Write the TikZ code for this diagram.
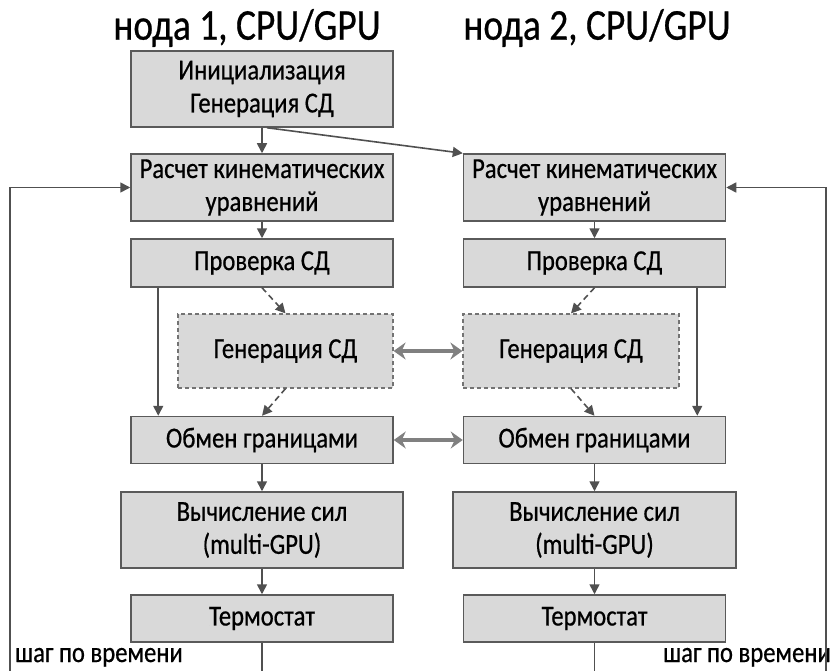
\documentclass[tikz,border=0pt]{standalone}
\usepackage{fontspec}
\setmainfont{Carlito}[FakeStretch=0.85, FakeBold=0.6]
\usetikzlibrary{arrows.meta}

\definecolor{boxfill}{HTML}{D9D9D9}
\definecolor{boxdraw}{HTML}{5A5A5A}
\definecolor{flowgray}{HTML}{505050}
\definecolor{xchgray}{HTML}{808080}

\tikzset{
  stage/.style={draw=boxdraw, fill=boxfill, line width=1.5pt, inner sep=0pt,
    align=center, minimum width=262pt, font=\fontsize{29}{33}\selectfont},
  optstage/.style={stage, draw=boxdraw!85, line width=1.2pt, dash pattern=on 4pt off 3pt},
  flow/.style={draw=flowgray, line width=1.6pt, -{Triangle[length=10pt,width=10pt]}},
  optflow/.style={flow, dash pattern=on 6pt off 4pt},
  xchg/.style={draw=xchgray, line width=3.5pt,
    {Stealth[length=12pt,width=17pt,inset=4pt]}-{Stealth[length=12pt,width=17pt,inset=4pt]}},
  heading/.style={font=\fontsize{44}{50}\selectfont},
  steplabel/.style={font=\fontsize{29}{33}\selectfont, inner sep=0pt}
}

\begin{document}
\begin{tikzpicture}[x=1pt, y=-1pt]
  \useasboundingbox (0,0) rectangle (832,671);

  % column headings
  \node[heading] (title1) at (247,28) {нода 1, CPU/GPU};
  \node[heading] (title2) at (597,28) {нода 2, CPU/GPU};

  % node 1
  \node[stage, minimum height=76pt] (init) at (262,89) {Инициализация\\Генерация СД};
  \node[stage, minimum height=67pt] (rasch1) at (262,187.5) {Расчет кинематических\\уравнений};
  \node[stage, minimum height=48pt] (prov1) at (262,263) {Проверка СД};
  \node[optstage, minimum width=215pt, minimum height=74pt] (gen1) at (285.5,351) {Генерация СД};
  \node[stage, minimum height=47pt] (obmen1) at (262,440) {Обмен границами};
  \node[stage, minimum width=282pt, minimum height=76pt] (calc1) at (262,530) {Вычисление сил\\(multi-GPU)};
  \node[stage, minimum height=47pt] (therm1) at (262,618.5) {Термостат};

  % node 2
  \node[stage, minimum height=67pt] (rasch2) at (594.5,187.5) {Расчет кинематических\\уравнений};
  \node[stage, minimum height=48pt] (prov2) at (594.5,263) {Проверка СД};
  \node[optstage, minimum width=216pt, minimum height=74pt] (gen2) at (571,351) {Генерация СД};
  \node[stage, minimum height=47pt] (obmen2) at (594.5,440) {Обмен границами};
  \node[stage, minimum width=283pt, minimum height=76pt] (calc2) at (594.5,530) {Вычисление сил\\(multi-GPU)};
  \node[stage, minimum height=47pt] (therm2) at (594.5,618.5) {Термостат};

  % time step labels
  \node[steplabel, anchor=base west] (stepL) at (15,662) {шаг по времени};
  \node[steplabel, anchor=base east] (stepR) at (831,662) {шаг по времени};

  \coordinate (loopL) at (10,671);
  \coordinate (loopR) at (826,671);

  % flow
  \draw[flow] (init) -- (rasch1);
  \draw[flow] ([xshift=5pt]init.south) -- (rasch2.north west);
  \foreach \col in {1,2} {
    \draw[flow] (rasch\col) -- (prov\col);
    \draw[optflow] (prov\col.south) -- (gen\col.north);
    \draw[optflow] (gen\col.south) -- (obmen\col.north);
    \draw[flow] (obmen\col) -- (calc\col);
    \draw[flow] (calc\col) -- (therm\col);
    \draw[draw=flowgray, line width=1.6pt] (therm\col.south) -- (therm\col.south |- loopL);
  }
  \draw[flow] ([xshift=28pt]prov1.south west) -- ([xshift=28pt]obmen1.north west);
  \draw[flow] ([xshift=-29pt]prov2.south east) -- ([xshift=-29pt]obmen2.north east);

  % exchange between nodes
  \draw[xchg] (gen1) -- (gen2);
  \draw[xchg] (obmen1) -- (obmen2);

  % time loop
  \draw[flow] (loopL) |- (rasch1.west);
  \draw[flow] (loopR) |- (rasch2.east);
\end{tikzpicture}
\end{document}
